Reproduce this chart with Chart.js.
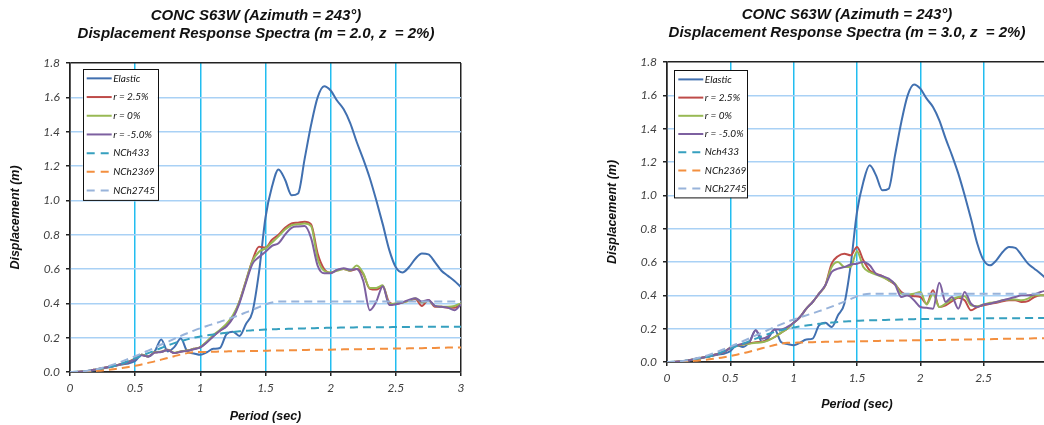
<!DOCTYPE html>
<html>
<head>
<meta charset="utf-8">
<script src="https://cdn.jsdelivr.net/npm/chart.js@4.4.1/dist/chart.umd.min.js"></script>
<style>
html, body { margin: 0; padding: 0; background: #fff; overflow: hidden; }
#page { position: relative; width: 1044px; height: 425px; overflow: hidden; }
#left { position: absolute; left: 0; top: 0; }
#right { position: absolute; left: 590px; top: 0; }
</style>
</head>
<body>
<div id="page">
  <canvas id="left" width="512" height="425"></canvas>
  <canvas id="right" width="514" height="425"></canvas>
</div>
<script>
// period (sec)
const periods = [
  0, 0.05, 0.1, 0.15, 0.2, 0.25, 0.3, 0.35, 0.4, 0.45,
  0.5, 0.55, 0.6, 0.65, 0.7, 0.75, 0.8, 0.85, 0.9, 0.95,
  1.0, 1.05, 1.1, 1.15, 1.2, 1.25, 1.3, 1.35, 1.4, 1.45,
  1.5, 1.55, 1.6, 1.65, 1.7, 1.75, 1.8, 1.85, 1.9, 1.95,
  2.0, 2.05, 2.1, 2.15, 2.2, 2.25, 2.3, 2.35, 2.4, 2.45,
  2.5, 2.55, 2.6, 2.65, 2.7, 2.75, 2.8, 2.85, 2.9, 2.95,
  3.0
];

// displacement (m), same elastic + code spectra in both panels
const elastic = [
  0, 0, 0.002, 0.006, 0.012, 0.02, 0.028, 0.036, 0.044, 0.05,
  0.065, 0.1, 0.09, 0.12, 0.19, 0.12, 0.145, 0.195, 0.12, 0.108,
  0.1, 0.115, 0.135, 0.14, 0.22, 0.235, 0.21, 0.28, 0.35, 0.58,
  0.9, 1.08, 1.18, 1.12, 1.03, 1.04, 1.24, 1.44, 1.6, 1.665,
  1.64, 1.58, 1.53, 1.45, 1.34, 1.24, 1.13, 1.0, 0.86, 0.71,
  0.61, 0.58, 0.61, 0.66, 0.69, 0.685, 0.64, 0.59, 0.56, 0.53,
  0.495
];
const nch433 = [
  0, 0.001, 0.003, 0.007, 0.012, 0.019, 0.027, 0.037, 0.05, 0.065,
  0.08, 0.095, 0.11, 0.125, 0.14, 0.155, 0.168, 0.18, 0.19, 0.2,
  0.207, 0.213, 0.219, 0.224, 0.229, 0.233, 0.237, 0.24, 0.243, 0.245,
  0.247, 0.249, 0.25, 0.251, 0.252, 0.253, 0.254, 0.255, 0.256, 0.257,
  0.258, 0.258, 0.259, 0.259, 0.26, 0.26, 0.26, 0.261, 0.261, 0.261,
  0.262, 0.262, 0.262, 0.263, 0.263, 0.263, 0.263, 0.264, 0.264, 0.264,
  0.264
];
const nch2369 = [
  0, 0, 0.001, 0.003, 0.006, 0.009, 0.013, 0.018, 0.023, 0.029,
  0.036, 0.044, 0.053, 0.062, 0.072, 0.082, 0.092, 0.102, 0.11, 0.115,
  0.116, 0.117, 0.118, 0.119, 0.12, 0.121, 0.121, 0.122, 0.123, 0.123,
  0.124, 0.125, 0.125, 0.126, 0.127, 0.127, 0.128, 0.129, 0.129, 0.13,
  0.13, 0.131, 0.132, 0.132, 0.133, 0.133, 0.134, 0.135, 0.135, 0.136,
  0.137, 0.137, 0.138, 0.139, 0.139, 0.14, 0.14, 0.141, 0.142, 0.142,
  0.143
];
const nch2745 = [
  0, 0.001, 0.004, 0.009, 0.016, 0.025, 0.035, 0.048, 0.062, 0.077,
  0.092, 0.108, 0.125, 0.142, 0.16, 0.175, 0.193, 0.21, 0.226, 0.241,
  0.255, 0.268, 0.28, 0.292, 0.305, 0.318, 0.332, 0.347, 0.362, 0.378,
  0.394, 0.405, 0.41, 0.41, 0.41, 0.41, 0.41, 0.41, 0.41, 0.41,
  0.41, 0.41, 0.41, 0.41, 0.41, 0.41, 0.41, 0.41, 0.41, 0.41,
  0.41, 0.41, 0.41, 0.41, 0.41, 0.41, 0.41, 0.41, 0.41, 0.41,
  0.41
];

// mu = 2.0
const leftR25 = [
  0, 0, 0.003, 0.008, 0.015, 0.022, 0.03, 0.038, 0.048, 0.06,
  0.078, 0.1, 0.09, 0.115, 0.118, 0.13, 0.11, 0.12, 0.125, 0.135,
  0.145, 0.175, 0.21, 0.24, 0.27, 0.32, 0.41, 0.53, 0.65, 0.73,
  0.725, 0.77, 0.8, 0.84, 0.865, 0.87, 0.875, 0.86, 0.69, 0.6,
  0.578, 0.595, 0.6, 0.59, 0.6, 0.57, 0.485, 0.48, 0.5, 0.405,
  0.395, 0.405, 0.415, 0.425, 0.385, 0.42, 0.38, 0.38, 0.375, 0.375,
  0.395
];
const leftR0 = [
  0, 0, 0.003, 0.008, 0.015, 0.022, 0.03, 0.038, 0.048, 0.06,
  0.078, 0.1, 0.09, 0.115, 0.118, 0.13, 0.112, 0.12, 0.125, 0.135,
  0.145, 0.178, 0.215, 0.245, 0.28, 0.33, 0.41, 0.53, 0.645, 0.7,
  0.72, 0.755, 0.79, 0.83, 0.855, 0.86, 0.865, 0.85, 0.66, 0.59,
  0.58, 0.59, 0.6, 0.59, 0.62, 0.575, 0.49, 0.49, 0.505, 0.395,
  0.4, 0.405, 0.415, 0.43, 0.405, 0.415, 0.385, 0.38, 0.38, 0.385,
  0.4
];
const leftRm5 = [
  0, 0, 0.003, 0.008, 0.015, 0.022, 0.03, 0.038, 0.048, 0.058,
  0.075, 0.098, 0.09, 0.113, 0.117, 0.128, 0.11, 0.118, 0.123, 0.133,
  0.143, 0.172, 0.208, 0.24, 0.265, 0.315, 0.4, 0.52, 0.63, 0.67,
  0.7, 0.735, 0.75, 0.8, 0.84, 0.848, 0.85, 0.78, 0.62, 0.575,
  0.575, 0.595, 0.605, 0.595, 0.6, 0.53, 0.36, 0.41, 0.5, 0.39,
  0.395, 0.405, 0.42, 0.43, 0.41, 0.42, 0.385, 0.38, 0.375, 0.36,
  0.395
];

// mu = 3.0
const rightR25 = [
  0, 0, 0.003, 0.008, 0.015, 0.022, 0.03, 0.038, 0.048, 0.06,
  0.085, 0.098, 0.105, 0.113, 0.118, 0.122, 0.132, 0.15, 0.175, 0.2,
  0.235, 0.27, 0.32, 0.36, 0.41, 0.46, 0.59, 0.635, 0.65, 0.64,
  0.69, 0.61, 0.55, 0.53, 0.515, 0.49, 0.465, 0.42, 0.4, 0.395,
  0.39, 0.35, 0.43, 0.33, 0.34, 0.365, 0.385, 0.37, 0.31, 0.33,
  0.34, 0.35, 0.355, 0.365, 0.37, 0.37, 0.36, 0.365, 0.39, 0.4,
  0.4
];
const rightR0 = [
  0, 0, 0.003, 0.008, 0.015, 0.022, 0.03, 0.038, 0.048, 0.06,
  0.085, 0.098, 0.105, 0.11, 0.115, 0.118, 0.13, 0.15, 0.175, 0.2,
  0.235, 0.27, 0.32, 0.36, 0.41, 0.46, 0.57, 0.6, 0.57, 0.57,
  0.665, 0.57, 0.54, 0.525, 0.51, 0.49, 0.47, 0.41, 0.405, 0.41,
  0.42, 0.345, 0.41, 0.33, 0.35, 0.375, 0.39, 0.395, 0.34, 0.335,
  0.345, 0.355, 0.36, 0.37, 0.375, 0.375, 0.37, 0.38, 0.4, 0.4,
  0.4
];
const rightRm5 = [
  0, 0, 0.003, 0.008, 0.015, 0.022, 0.03, 0.038, 0.048, 0.06,
  0.085, 0.1, 0.11, 0.12, 0.19, 0.14, 0.155, 0.195, 0.195, 0.21,
  0.235, 0.27, 0.32, 0.36, 0.41, 0.46, 0.54, 0.56, 0.57, 0.585,
  0.59, 0.6, 0.58, 0.53, 0.515, 0.5, 0.465, 0.39, 0.4, 0.37,
  0.33, 0.325, 0.32, 0.475, 0.36, 0.39, 0.32, 0.42, 0.35, 0.33,
  0.345, 0.35, 0.36, 0.37, 0.38, 0.39, 0.4, 0.4, 0.405, 0.42,
  0.43
];

const tickFont = { family: 'Lato', size: 12, style: 'italic' };
const axisTitleFont = { family: 'Liberation Sans', size: 12.5, weight: 'bold', style: 'italic' };
const dark = '#222222';

// legend box drawn inside the plot area, like the spreadsheet one
const boxLegend = {
  id: 'boxLegend',
  afterDatasetsDraw(chart, args, opts) {
    const ctx = chart.ctx;
    const area = chart.chartArea;
    const x = area.left + opts.dx;
    const y = area.top + opts.dy;
    const sets = chart.data.datasets;
    const h = sets.length * opts.row;
    ctx.save();
    ctx.fillStyle = '#ffffff';
    ctx.fillRect(x, y, opts.w, h);
    ctx.strokeStyle = '#111111';
    ctx.lineWidth = 1;
    ctx.strokeRect(Math.round(x) + 0.5, Math.round(y) + 0.5, opts.w, h);
    ctx.font = 'italic 10px Lato';
    ctx.textBaseline = 'middle';
    sets.forEach((ds, i) => {
      const cy = y + opts.row * (i + 0.5);
      ctx.strokeStyle = ds.borderColor;
      ctx.lineWidth = 2;
      ctx.setLineDash(ds.borderDash.length ? [8, 6] : []);
      ctx.beginPath();
      ctx.moveTo(x + 4, cy);
      ctx.lineTo(x + 29, cy);
      ctx.stroke();
      ctx.setLineDash([]);
      ctx.fillStyle = '#111111';
      ctx.fillText(ds.label, x + 30.5, cy);
    });
    ctx.restore();
  }
};

function isAt(v, t) { return Math.abs(v - t) < 1e-6; }

function makeChart(id, c) {
  const series = [
    { label: 'Elastic', values: elastic, color: '#4170b0' },
    { label: 'r = 2.5%', values: c.r25, color: '#be4b48' },
    { label: 'r = 0%', values: c.r0, color: '#98b954' },
    { label: 'r = -5.0%', values: c.rm5, color: '#7d60a0' },
    { label: c.label433, values: nch433, color: '#36a0bf', dash: [8, 5] },
    { label: 'NCh2369', values: nch2369, color: '#f38f3f', dash: [8, 5] },
    { label: 'NCh2745', values: nch2745, color: '#98b3da', dash: [8, 5] }
  ];
  const datasets = series.map((s, i) => ({
    label: s.label,
    data: periods.map((p, k) => ({ x: p, y: s.values[k] })),
    borderColor: s.color,
    borderWidth: 2,
    borderDash: s.dash || [],
    pointRadius: 0,
    fill: false,
    cubicInterpolationMode: 'monotone',
    order: series.length - i
  }));

  return new Chart(document.getElementById(id), {
    type: 'line',
    data: { datasets: datasets },
    plugins: [boxLegend],
    options: {
      responsive: false,
      animation: false,
      events: [],
      layout: { padding: 0 },
      plugins: {
        legend: { display: false },
        tooltip: { enabled: false },
        title: {
          display: true,
          text: c.title,
          color: '#111111',
          font: { family: 'Liberation Sans', size: 15, weight: 'bold', style: 'italic', lineHeight: 18 / 15 },
          padding: { top: c.titleTop, bottom: c.titleBottom }
        },
        boxLegend: c.legend
      },
      scales: {
        x: {
          type: 'linear',
          position: 'bottom',
          min: 0,
          max: 3,
          afterFit: s => { s.height = c.xAxisH; },
          ticks: { stepSize: 0.5, padding: 5, font: tickFont, color: '#404040', callback: v => String(Math.round(v * 10) / 10) },
          grid: {
            color: ctx => (ctx.tick && (isAt(ctx.tick.value, 0) || isAt(ctx.tick.value, 3))) ? dark : '#22bdf0',
            lineWidth: 1.5,
            tickLength: 4,
            tickColor: dark
          },
          border: { color: dark, width: 1.5 },
          title: { display: true, text: 'Period (sec)', font: axisTitleFont, color: '#111111', padding: { top: 0, bottom: c.xTitlePad } }
        },
        y: {
          min: 0,
          max: 1.8,
          afterFit: s => { s.width = c.yAxisW; },
          ticks: { stepSize: 0.2, padding: 6, font: tickFont, color: '#404040', callback: v => v.toFixed(1) },
          grid: {
            color: ctx => (ctx.tick && (isAt(ctx.tick.value, 0) || isAt(ctx.tick.value, 1.8))) ? dark : '#a9d1f5',
            lineWidth: 1.5,
            tickLength: 4,
            tickColor: dark
          },
          border: { color: dark, width: 1.5 },
          title: { display: true, text: 'Displacement (m)', font: axisTitleFont, color: '#111111', padding: { top: c.yTitlePad, bottom: 0 } }
        },
        pad: {
          position: 'right',
          min: 0,
          max: 1,
          afterFit: s => { s.width = c.rightW; },
          ticks: { display: false },
          grid: { display: false },
          border: { display: false }
        }
      }
    }
  });
}

function build() {
  makeChart('left', {
    title: ['CONC S63W (Azimuth = 243°)', 'Displacement Response Spectra (m = 2.0, z  = 2%)'],
    r25: leftR25, r0: leftR0, rm5: leftRm5, label433: 'NCh433',
    titleTop: 7, titleBottom: 20, yAxisW: 70, rightW: 51, xAxisH: 53,
    yTitlePad: 8, xTitlePad: 1,
    legend: { dx: 12.7, dy: 6, w: 75, row: 18.7 }
  });
  makeChart('right', {
    title: ['CONC S63W (Azimuth = 243°)', 'Displacement Response Spectra (m = 3.0, z  = 2%)'],
    r25: rightR25, r0: rightR0, rm5: rightRm5, label433: 'Nch433',
    titleTop: 6, titleBottom: 20, yAxisW: 77, rightW: 57, xAxisH: 63,
    yTitlePad: 15, xTitlePad: 13,
    legend: { dx: 7.3, dy: 8.3, w: 73, row: 18.2 }
  });
}

Promise.all([
  document.fonts.load('italic 12px Lato'),
  document.fonts.load('italic 10px Lato'),
  document.fonts.load('bold italic 15px "Liberation Sans"')
]).then(build, build);
</script>
</body>
</html>
